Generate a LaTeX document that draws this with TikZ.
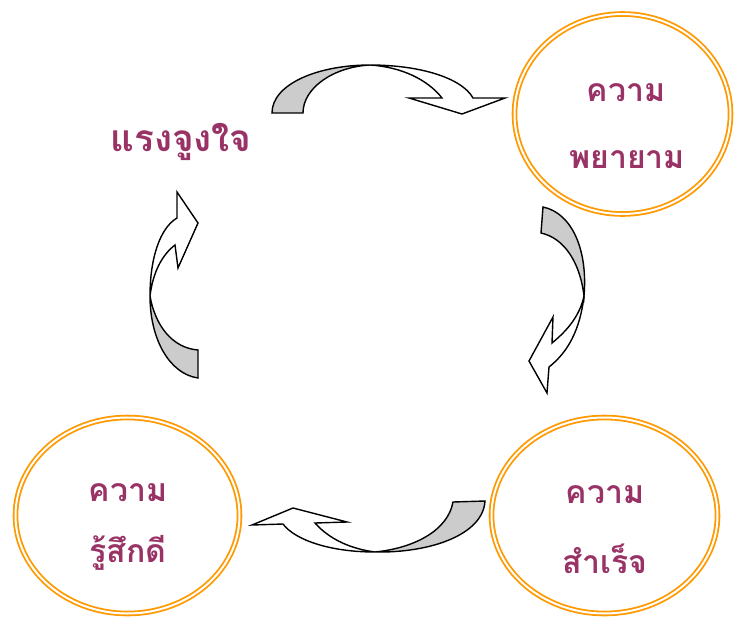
\documentclass[tikz,border=0pt]{standalone}
\usepackage{fontspec}
\newfontfamily\thaifont[Script=Thai]{Loma}
\usetikzlibrary{shapes.geometric}
\definecolor{txt}{RGB}{153,51,102}
\definecolor{ring}{RGB}{255,153,0}
\definecolor{shade}{RGB}{204,204,204}
\begin{document}
\begin{tikzpicture}[x=1pt,y=-1pt,
  ringnode/.style={ellipse, draw=ring, double=white, line width=1.8pt, double distance=2pt, inner sep=0pt},
  lbl/.style={font=\thaifont\bfseries\fontsize{32}{36}\selectfont, text=txt, inner sep=0pt},
  band/.style={draw=black, line width=1.4pt, line join=miter, fill=white},
  under/.style={draw=black, line width=1.4pt, line join=miter, fill=shade}]
\useasboundingbox (0,0) rectangle (734,619);

% rings
\node[ringnode, minimum width=216pt, minimum height=200pt] (effort) at (622.5,114) {};
\node[ringnode, minimum width=224pt, minimum height=196pt] (feel) at (127.5,515.5) {};
\node[ringnode, minimum width=226pt, minimum height=196pt] (success) at (604.5,515.5) {};

% labels
\node[lbl, font=\thaifont\bfseries\fontsize{37}{40}\selectfont] (motiv) at (181,142) {แรงจูงใจ};
\node[lbl] (e1) at (626,93) {ความ};
\node[lbl] (e2) at (627,160) {พยายาม};
\node[lbl] (f1) at (128,493) {ความ};
\node[lbl] (f2) at (128,553) {รู้สึกดี};
\node[lbl] (s1) at (605,495) {ความ};
\node[lbl] (s2) at (605,559) {สำเร็จ};

% top arrow (motivation -> effort)
\draw[under] (272,113) .. controls (272,84) and (318,65) .. (370,65)
  .. controls (333,67) and (303,88) .. (303,113) -- cycle;
\draw[band] (370,65) .. controls (420,65) and (462,78) .. (473,98) -- (505,98) -- (462,114) -- (409,98) -- (442,98)
  .. controls (428,80) and (402,67) .. (370,65) -- cycle;

% right arrow (effort -> success)
\draw[under] (543,207) .. controls (572,213) and (588,250) .. (584,296)
  .. controls (580,262) and (564,238) .. (541,233) -- cycle;
\draw[band] (584,296) .. controls (580,330) and (568,352) .. (549,367) -- (547,393) -- (529,361) -- (553,317) -- (552,343)
  .. controls (568,330) and (580,315) .. (584,296) -- cycle;

% bottom arrow (success -> feeling)
\draw[under] (485,501) .. controls (483,535) and (430,553) .. (375,552)
  .. controls (415,548) and (448,530) .. (453,502) -- cycle;
\draw[band] (375,552) .. controls (330,552) and (295,540) .. (283,524) -- (252,525) -- (293,508) -- (347,522) -- (315,523)
  .. controls (330,540) and (352,549) .. (375,552) -- cycle;

% left arrow (feeling -> motivation)
\draw[under] (198,378) .. controls (170,374) and (150,340) .. (150,296)
  .. controls (155,325) and (172,348) .. (198,350) -- cycle;
\draw[band] (150,296) .. controls (150,258) and (160,228) .. (177,218) -- (177,192) -- (198,223) -- (178,268) -- (175,245)
  .. controls (162,255) and (153,272) .. (150,296) -- cycle;
\end{tikzpicture}
\end{document}
